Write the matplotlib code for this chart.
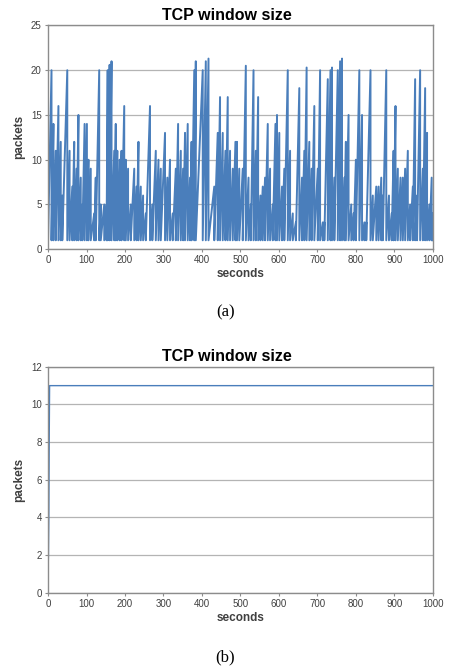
import matplotlib.pyplot as plt
import numpy as np

# (a) sawtooth window: peak of each cycle (seconds, packets); window drops to 1 after each peak
peak_sec = [9, 14, 20, 27, 33, 37, 50, 56, 63, 68, 74, 79, 85, 89, 95, 101, 105, 111,
            120, 124, 133, 137, 146, 152, 155, 160, 165, 172, 176, 180, 186, 191, 198,
            202, 208, 215, 224, 230, 235, 241, 247, 254, 265, 271, 280, 287, 293, 304,
            310, 317, 324, 332, 338, 345, 351, 356, 363, 369, 373, 380, 384, 402, 410,
            417, 432, 441, 447, 454, 461, 467, 473, 480, 487, 491, 497, 506, 514, 521,
            527, 534, 540, 546, 552, 558, 564, 571, 577, 584, 591, 595, 601, 608, 614,
            623, 629, 636, 644, 653, 660, 666, 672, 679, 685, 692, 701, 707, 714, 718,
            727, 734, 738, 744, 753, 759, 764, 770, 774, 781, 788, 794, 800, 809, 816,
            822, 827, 838, 844, 853, 859, 866, 870, 879, 886, 893, 898, 903, 909, 916,
            922, 928, 935, 941, 948, 954, 959, 967, 974, 980, 985, 991, 997, 1000]
peak_val = [20, 14, 11, 16, 12, 6, 20, 11, 7, 12, 9, 15, 8, 5, 14, 14, 10, 9,
            4, 8, 20, 5, 5, 5, 20, 20.6, 21, 11, 14, 11, 10, 11, 16,
            10, 9, 5, 9, 7, 12, 7, 6, 4, 16, 5, 11, 10, 9, 13,
            8, 10, 4, 9, 14, 11, 9, 13, 14, 8, 12, 20, 21, 20, 21,
            21.3, 7, 13, 17, 13, 11, 17, 11, 9, 12, 12, 9, 9, 20.5, 8,
            5, 20, 11, 17, 6, 7, 8, 14, 9, 5, 14, 15, 13, 7, 9,
            20, 11, 4, 3, 18, 8, 11, 20.3, 12, 9, 16, 9, 20, 3, 3,
            19, 20, 20.3, 8, 20, 21, 21.3, 8, 12, 15, 5, 4, 10, 20, 15,
            3, 3, 20, 6, 7, 7, 8, 6, 20, 6, 4, 11, 16, 9, 8,
            8, 9, 11, 5, 7, 19, 6, 20, 9, 18, 13, 5, 8, 4]
floor_packets = 1

# (b) slow start then constant window
seconds_b = [0, 1, 2, 3, 4, 1000]
packets_b = [1, 2, 4, 8, 11, 11]

line_color = '#4a7ebb'
grid_color = '#b4b4b4'
frame_color = '#8c8c8c'
text_color = '#404040'

# sawtooth: reach peak, drop straight back to the floor
x_a = np.concatenate([[0], np.repeat(peak_sec, 2)])
y_a = np.concatenate([[floor_packets], np.column_stack([peak_val, np.full(len(peak_val), floor_packets)]).ravel()])

fig = plt.figure(figsize=(4.49, 6.70), dpi=100)
ax_a = fig.add_axes([0.107, 0.628, 0.857, 0.334])
ax_b = fig.add_axes([0.107, 0.1155, 0.857, 0.337])


def style(ax, ymax, ystep):
    ax.set_xlim(0, 1000)
    ax.set_ylim(0, ymax)
    ax.set_xticks(range(0, 1001, 100))
    ax.set_yticks(np.arange(0, ymax + 0.1, ystep))
    ax.grid(axis='y', color=grid_color, linewidth=0.9)
    ax.set_axisbelow(True)
    for s in ax.spines.values():
        s.set_color(frame_color)
        s.set_linewidth(1.0)
    ax.tick_params(axis='both', labelsize=7, colors=text_color, length=2.5, width=0.8,
                   pad=2, labelfontfamily='Liberation Sans')
    ax.tick_params(axis='both', color=frame_color)
    ax.set_title('TCP window size', fontsize=11.5, fontweight='bold',
                 family='Liberation Sans', pad=4, x=0.465)
    ax.set_xlabel('seconds', fontsize=8.5, fontweight='bold', family='Liberation Sans',
                  color=text_color, labelpad=2)
    ax.set_ylabel('packets', fontsize=8.5, fontweight='bold', family='Liberation Sans',
                  color=text_color, labelpad=4)


ax_a.plot(x_a, y_a, color=line_color, linewidth=1.4)
style(ax_a, 25, 5)

ax_b.plot(seconds_b, packets_b, color=line_color, linewidth=1.0)
style(ax_b, 12, 2)

fig.text(0.502, 1 - 312 / 670, '(a)', ha='center', va='center', fontsize=12,
         family='Liberation Serif')
fig.text(0.502, 1 - 657 / 670, '(b)', ha='center', va='center', fontsize=12,
         family='Liberation Serif')

plt.savefig('out.png', dpi=100)
